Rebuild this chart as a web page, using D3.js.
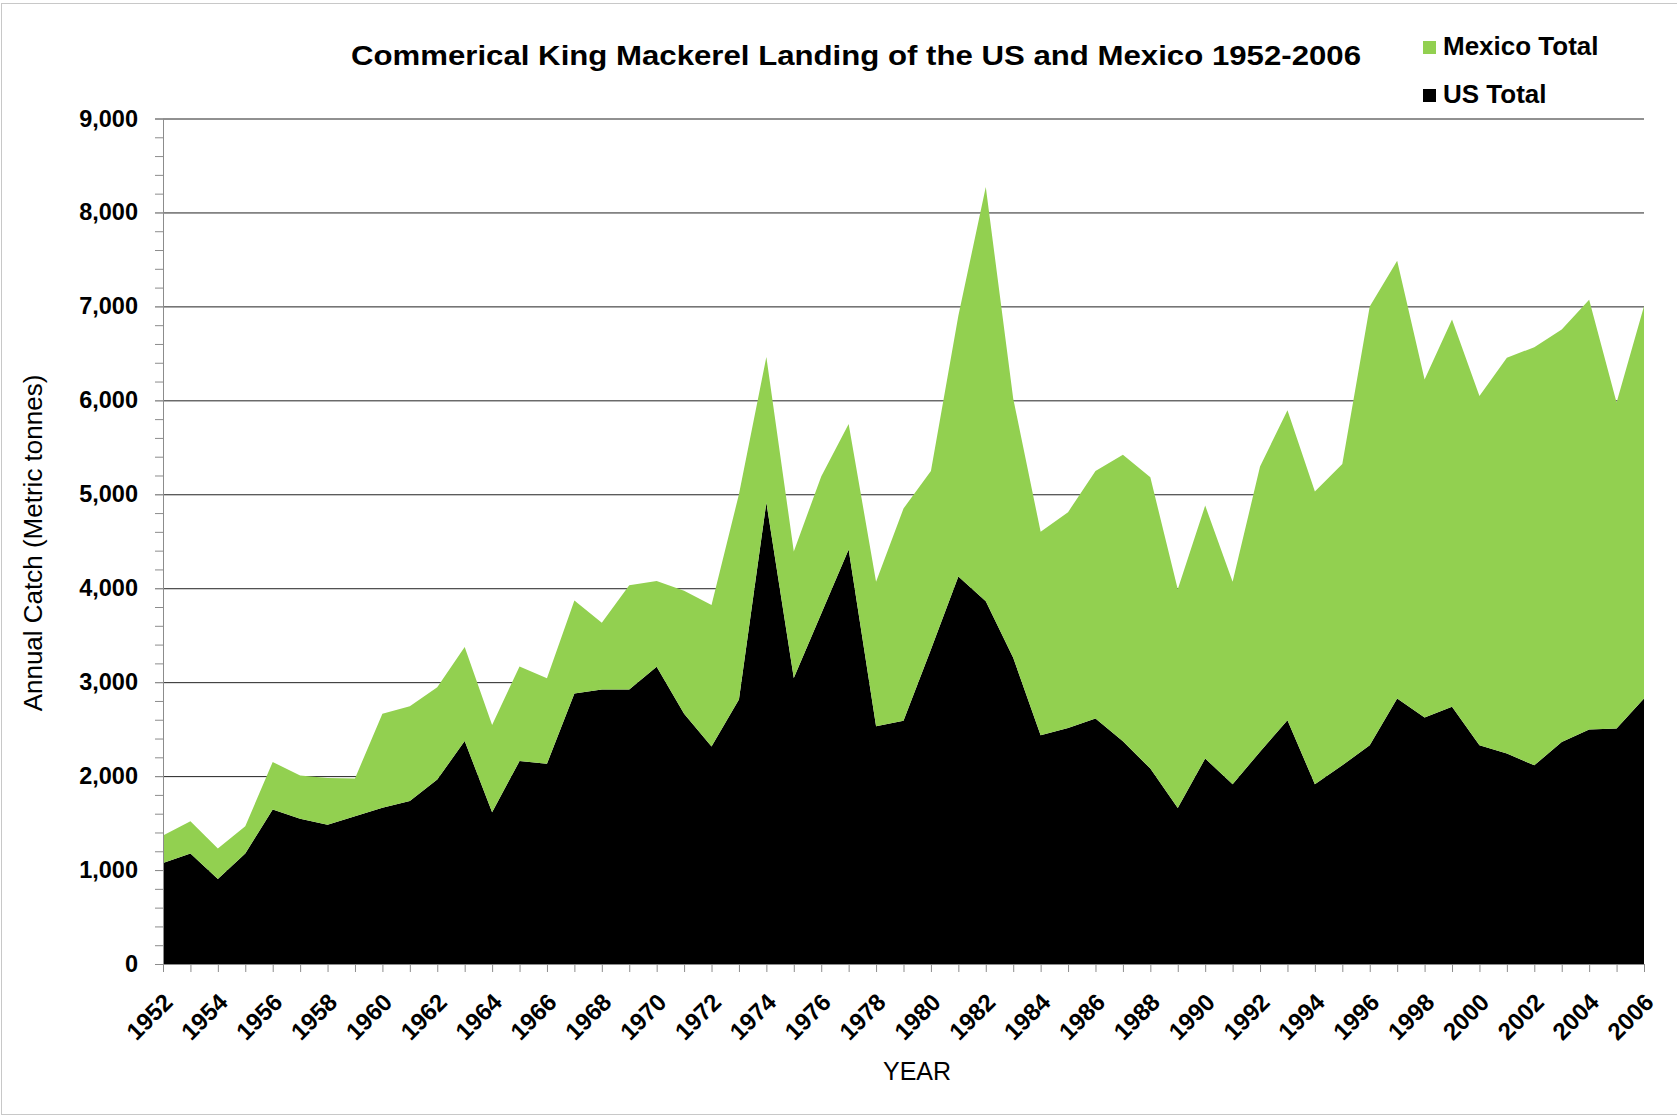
<!DOCTYPE html>
<html>
<head>
<meta charset="utf-8">
<script src="https://cdn.jsdelivr.net/npm/d3@7"></script>
<style>
  body { margin: 0; background: #fff; }
  svg { display: block; font-family: "Liberation Sans", Arial, sans-serif; }
  .axis path, .axis line { stroke: #8c8c8c; }
  .axis text { fill: #000; font-weight: bold; }
</style>
</head>
<body>
<div class="container"></div>
<script>
// DATA
const years = d3.range(1952, 2007);

// US landings (metric tonnes)
const usTotal = [
  1076, 1176, 906, 1176, 1645, 1545, 1481, 1574, 1662, 1734,
  1964, 2373, 1616, 2160, 2131, 2880, 2922, 2922, 3165, 2664,
  2314, 2816, 4912, 3044, 3728, 4411, 2531, 2588, 3347, 4126,
  3860, 3260, 2436, 2512, 2614, 2370, 2080, 1661, 2187, 1913,
  2260, 2595, 1913, 2115, 2328, 2826, 2623, 2737, 2328, 2240,
  2115, 2364, 2495, 2506, 2826
];

// Mexico landings (stacked on top of US)
const mexicoTotal = [
  292, 344, 323, 291, 504, 462, 499, 401, 1003, 1009,
  983, 1002, 928, 1008, 911, 990, 710, 1109, 912, 1310,
  1508, 2184, 1550, 1348, 1462, 1337, 1538, 2260, 1900, 2774,
  4410, 2760, 2165, 2298, 2633, 3050, 3100, 2329, 2693, 2155,
  3035, 3299, 3117, 3206, 4672, 4660, 3600, 4123, 3718, 4213,
  4451, 4390, 4577, 3470, 4175
];

const yTicks = d3.range(0, 9001, 1000);
const yMinorTicks = d3.range(0, 9001, 200);

const seriesNames = ["US Total", "Mexico Total"];
const colors = { "US Total": "#000000", "Mexico Total": "#92d050" };

// LAYOUT
const W = 1677, H = 1116;
const margin = { top: 118.5, right: 33, bottom: 152, left: 163 };
const width = W - margin.left - margin.right,
    height = H - margin.top - margin.bottom;

const svg = d3.select(".container")
    .append("svg")
    .attr("width", W)
    .attr("height", H);

// outer frame
svg.append("rect")
    .attr("x", 1.5)
    .attr("y", 3.5)
    .attr("width", W + 10)
    .attr("height", 1111)
    .attr("fill", "none")
    .attr("stroke", "#c8c8c8");

const g = svg.append("g")
    .attr("transform", `translate(${margin.left}, ${margin.top})`);

// SCALES
const x = d3.scaleLinear()
    .domain([1952, 2006])
    .range([0, width]);

const y = d3.scaleLinear()
    .domain([0, 9000])
    .range([height, 0]);

// table for the stack
const table = years.map((yr, i) => ({
    year: yr,
    "US Total": usTotal[i],
    "Mexico Total": mexicoTotal[i]
}));

const stacked = d3.stack().keys(seriesNames)(table);

// GRID LINES
g.append("g")
    .attr("class", "grid")
    .call(d3.axisLeft(y).tickValues(yTicks.slice(1)).tickSize(-width).tickFormat(""))
    .call(sel => sel.select(".domain").remove())
    .selectAll("line")
    .attr("stroke", "#222")
    .attr("stroke-width", 1);

// AREAS
const area = d3.area()
    .x(d => x(d.data.year))
    .y0(d => y(d[0]))
    .y1(d => y(d[1]));

g.selectAll("path.layer")
    .data(stacked)
    .enter()
    .append("path")
    .attr("class", "layer")
    .attr("fill", d => colors[d.key])
    .attr("d", area);

// AXES
// minor ticks on y
g.append("g")
    .attr("class", "axis")
    .call(d3.axisLeft(y).tickValues(yMinorTicks).tickSize(8).tickFormat(""));

g.append("g")
    .attr("class", "axis")
    .attr("id", "y-axis")
    .call(d3.axisLeft(y).tickValues(yTicks).tickSize(8).tickPadding(17).tickFormat(d3.format(",")))
    .call(sel => sel.select(".domain").remove())
    .selectAll("text")
    .style("font-size", "23.5px");

g.append("g")
    .attr("class", "axis")
    .attr("id", "x-axis")
    .attr("transform", `translate(0, ${height})`)
    .call(d3.axisBottom(x).tickValues(years).tickSize(8).tickFormat(d => d % 2 === 0 ? d : ""))
    .selectAll("text")
    .style("font-size", "24px")
    .attr("text-anchor", "end")
    .attr("dy", "0.35em")
    .attr("transform", "translate(-3, 26) rotate(-45)");

// TITLES
svg.append("text")
    .attr("x", 856)
    .attr("y", 65)
    .attr("text-anchor", "middle")
    .attr("textLength", 1010)
    .attr("lengthAdjust", "spacingAndGlyphs")
    .style("font-size", "27px")
    .style("font-weight", "bold")
    .text("Commerical King Mackerel Landing of the US and Mexico 1952-2006");

svg.append("text")
    .attr("transform", `translate(42, 543) rotate(-90)`)
    .attr("text-anchor", "middle")
    .style("font-size", "26px")
    .text("Annual Catch (Metric tonnes)");

svg.append("text")
    .attr("x", 917)
    .attr("y", 1080)
    .attr("text-anchor", "middle")
    .style("font-size", "25px")
    .text("YEAR");

// LEGEND
const legend = svg.append("g")
    .attr("transform", "translate(1423, 41)");

const legendItems = legend.selectAll("g")
    .data(["Mexico Total", "US Total"])
    .enter()
    .append("g")
    .attr("transform", (d, i) => `translate(0, ${i * 48})`);

legendItems.append("rect")
    .attr("width", 13)
    .attr("height", 13)
    .attr("fill", d => colors[d]);

legendItems.append("text")
    .attr("x", 20)
    .attr("y", 14)
    .style("font-size", "26px")
    .style("font-weight", "bold")
    .text(d => d);
</script>
</body>
</html>
